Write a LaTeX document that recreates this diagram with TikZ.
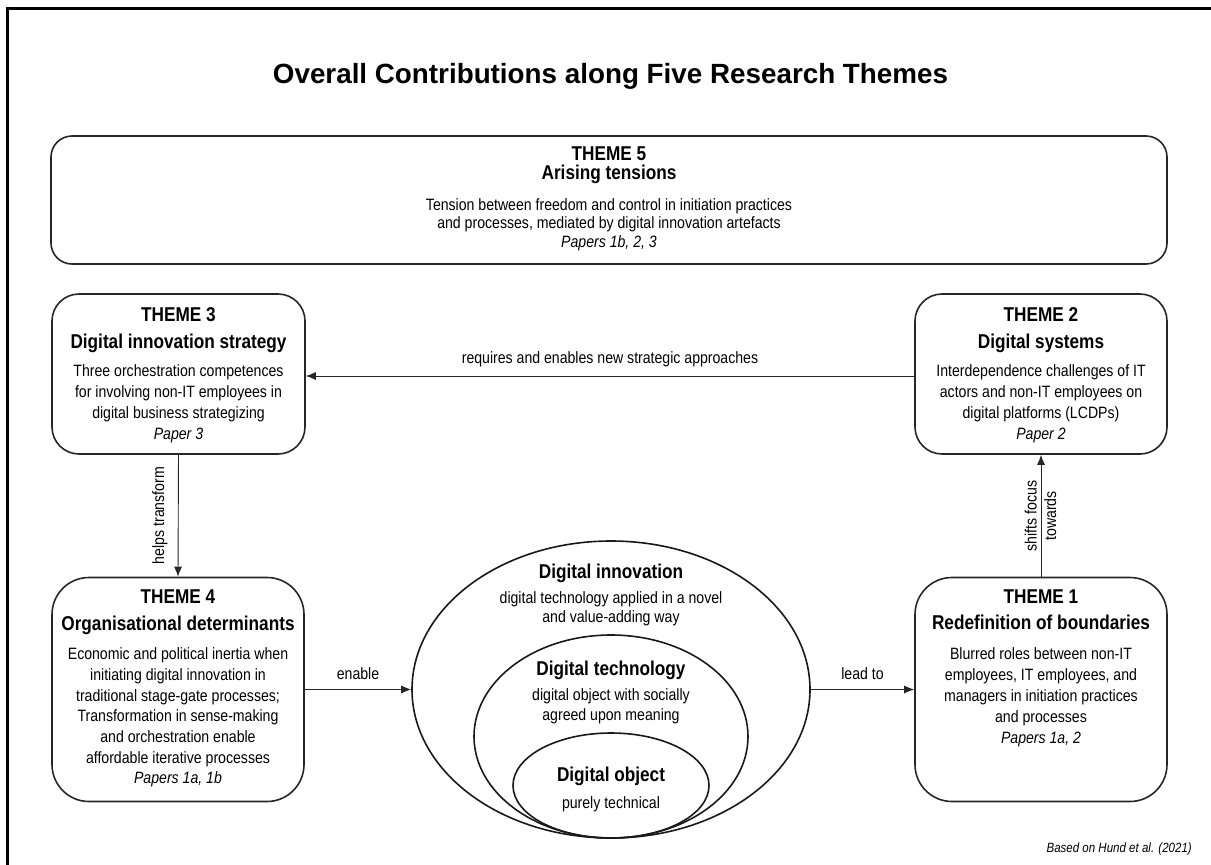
\documentclass[tikz,border=0pt]{standalone}
\usepackage{fontspec}
\setmainfont{Liberation Sans}
\newfontfamily\nfont{Liberation Sans}[FakeStretch=0.86]
\usetikzlibrary{arrows.meta,shapes.geometric}

\tikzset{
  box/.style={draw=black!85, line width=1.6pt, rectangle, inner sep=0pt},
  ell/.style={draw=black!90, line width=1.6pt, ellipse, inner sep=0pt},
  arr/.style={draw=black!85, line width=0.9pt, -{Latex[length=10pt,width=8pt]}},
  lbl/.style={font=\nfont\fontsize{16.4}{19.5}\selectfont, inner sep=0pt},
  txt/.style={inner sep=0pt, anchor=base},
}

% #1 hsize, #2 heading skip, #3 extra gap, #4 body skip, #5 heading lines, #6 body lines
\newcommand\blocktext[6]{%
  \vtop{\hsize=#1pt\parindent=0pt\centering\nfont
  \fontsize{20}{#2}\selectfont\bfseries #5\par
  \vskip #3pt
  \fontsize{16.4}{#4}\selectfont\mdseries #6\par}}

\begin{document}
\begin{tikzpicture}[x=1pt,y=-1pt]
\useasboundingbox (0,0) rectangle (1211,865);

% frame
\draw[line width=3pt] (7,866) -- (7,8) -- (1212,8);

% title
\node[txt, font=\bfseries\fontsize{27.8}{30}\selectfont] (title) at (610.5,83)
  {Overall Contributions along Five Research Themes};

% boxes
\node[box, rounded corners=21pt, minimum width=1116pt, minimum height=128pt] (t5) at (609,200) {};
\node[box, rounded corners=27pt, minimum width=253pt, minimum height=160pt] (t3) at (178.5,374) {};
\node[box, rounded corners=27pt, minimum width=252pt, minimum height=160pt] (t2) at (1041,374) {};
\node[box, rounded corners=37pt, minimum width=252pt, minimum height=224pt] (t4) at (178,689.5) {};
\node[box, rounded corners=37pt, minimum width=252pt, minimum height=224pt] (t1) at (1041,689.5) {};

% ellipses
\node[ell, minimum width=398pt, minimum height=297pt] (e1) at (611,689.5) {};
\node[ell, minimum width=274pt, minimum height=203pt] (e2) at (611,736.5) {};
\node[ell, minimum width=196pt, minimum height=105pt] (e3) at (611,785.5) {};

% box texts
\node[txt] (t5txt) at (609,160) {\blocktext{1000}{19.5}{12}{18.5}{THEME 5\\Arising tensions}
  {Tension between freedom and control in initiation practices\\and processes, mediated by digital innovation artefacts\\\itshape Papers 1b, 2, 3}};
\node[txt] (t3txt) at (178.5,321) {\blocktext{250}{27}{7}{21}{THEME 3\\Digital innovation strategy}
  {Three orchestration competences\\for involving non-IT employees in\\digital business strategizing\\\itshape Paper 3}};
\node[txt] (t2txt) at (1041,321) {\blocktext{250}{27}{7}{21}{THEME 2\\Digital systems}
  {Interdependence challenges of IT\\actors and non-IT employees on\\digital platforms (LCDPs)\\\itshape Paper 2}};
\node[txt] (t4txt) at (178,603) {\blocktext{250}{27}{9}{20.7}{THEME 4\\Organisational determinants}
  {Economic and political inertia when\\initiating digital innovation in\\traditional stage-gate processes;\\Transformation in sense-making\\and orchestration enable\\affordable iterative processes\\\itshape Papers 1a, 1b}};
\node[txt] (t1txt) at (1041,603) {\blocktext{250}{26}{10}{20.8}{THEME 1\\Redefinition of boundaries}
  {Blurred roles between non-IT\\employees, IT employees, and\\managers in initiation practices\\and processes\\\itshape Papers 1a, 2}};

% ellipse texts
\node[txt] (e1txt) at (611,578) {\blocktext{380}{20}{5.5}{19.5}{Digital innovation}
  {digital technology applied in a novel\\and value-adding way}};
\node[txt] (e2txt) at (611,675) {\blocktext{260}{20}{5}{20}{Digital technology}
  {digital object with socially\\agreed upon meaning}};
\node[txt] (e3txt) at (611,781) {\blocktext{190}{20}{7.5}{19.5}{Digital object}
  {purely technical}};

% connectors
\draw[arr] ([yshift=-2pt]t2.west) -- ([yshift=-2pt]t3.east)
  node[lbl, midway, anchor=base, yshift=13pt] (lreq) {requires and enables new strategic approaches};
\draw[arr] (t3.south) -- (t4.north);
\node[lbl, rotate=90, anchor=base] (lhelp) at (164,515.5) {helps transform};
\draw[arr] (t1.north) -- (t2.south);
\node[lbl, rotate=90, align=center] (lshift) at (1040.5,516) {shifts focus\\towards};
\draw[arr] (t4.east) -- (e1.west)
  node[lbl, midway, anchor=base, yshift=10pt] (lenable) {enable};
\draw[arr] (e1.east) -- (t1.west)
  node[lbl, midway, anchor=base, yshift=10pt] (llead) {lead to};

% source
\node[anchor=base east, inner sep=0pt, font=\nfont\itshape\fontsize{13.4}{15}\selectfont] (src) at (1192,852)
  {Based on Hund et al. (2021)};
\end{tikzpicture}
\end{document}
